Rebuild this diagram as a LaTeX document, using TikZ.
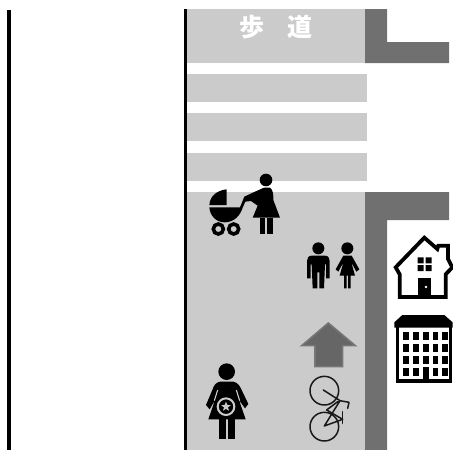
\documentclass[tikz,border=0pt]{standalone}
\usepackage{fontspec}
\newfontfamily\cjk{Noto Sans CJK JP}
\usetikzlibrary{shapes.geometric}
\definecolor{walk}{HTML}{CBCBCB}
\definecolor{wall}{HTML}{707070}
\definecolor{arrowfill}{HTML}{666666}
\definecolor{arrowedge}{HTML}{767676}
\tikzset{
  walkarea/.style={fill=walk,draw=none},
  wallarea/.style={fill=wall,draw=none},
  edgeline/.style={draw=black,line width=3.2pt},
  icon/.style={fill=black,draw=none},
  bikeline/.style={draw=black!90,line width=1.5pt,line cap=round,line join=round},
  zoomed/.style={shift={#1},scale=1/3}
}
\begin{document}
\begin{tikzpicture}[x=1pt,y=-1pt]
\useasboundingbox (0,0) rectangle (453,450);
\fill[white] (0,0) rectangle (453,450);
% walkway
\fill[walkarea] (187,9) rectangle (365,63);
\fill[walkarea] (187,74) rectangle (367,102);
\fill[walkarea] (187,113) rectangle (367,141);
\fill[walkarea] (187,153) rectangle (367,181);
\fill[walkarea] (187,192) rectangle (365,450);
% walls
\fill[wallarea] (365,9) -- (387,9) -- (387,42) -- (449,42) -- (449,63) -- (365,63) -- cycle;
\fill[wallarea] (365,192) -- (449,192) -- (449,220) -- (387,220) -- (387,450) -- (365,450) -- cycle;
% edge lines
\draw[edgeline] (9,10) -- (9,450);
\draw[edgeline] (185.5,9) -- (185.5,450);
% text
\node[text=white,font=\cjk\bfseries,inner sep=0pt] (ta) at (252,27) {\fontsize{25}{25}\selectfont 歩};
\node[text=white,font=\cjk\bfseries,inner sep=0pt] (tb) at (300,27) {\fontsize{25}{25}\selectfont 道};
% woman with pram
\begin{scope}[zoomed={(190,165)}]
\fill[icon] (228,45) circle (19);
\fill[icon] (222,68) -- (240,68) .. controls (250,75) and (250,90) .. (250,105) -- (270,158) -- (188,158) -- (203,122) -- (183,108)
  -- (166,110) -- (158,128) .. controls (152,148) and (135,172) .. (104,172) .. controls (78,172) and (60,152) .. (58,127) -- (150,127) -- (163,95) -- (195,80) -- cycle;
\fill[icon] (110,73) .. controls (82,76) and (60,92) .. (58,120) -- (110,120) -- cycle;
\fill[icon] (209,158) rectangle (225,207);
\fill[icon] (232,158) rectangle (248,207);
\draw[black,line width=3.6pt] (85,192) circle (15) (131,192) circle (15);
\end{scope}
% man and woman
\begin{scope}[zoomed={(295,225)}]
\fill[icon] (70,70) circle (18);
\fill[icon] (50,92) -- (90,92) .. controls (100,92) and (104,100) .. (104,108) -- (104,160) -- (93,160) -- (93,118) -- (90,118) -- (87,190) -- (73,190) -- (73,142) -- (67,142) -- (67,190) -- (53,190) -- (50,118) -- (47,118) -- (47,160) -- (36,160) -- (36,108) .. controls (36,100) and (40,92) .. (50,92) -- cycle;
\fill[icon] (157,70) circle (18);
\fill[icon] (145,92) -- (170,92) -- (193,133) -- (184,140) -- (169,112) -- (180,152) -- (167,152) -- (167,190) -- (159,190) -- (159,152) -- (155,152) -- (155,190) -- (147,190) -- (147,152) -- (134,152) -- (145,112) -- (130,140) -- (122,133) -- cycle;
% arrow
\filldraw[fill=arrowfill,draw=arrowedge,line width=1.6pt,line join=miter] (100,294) -- (181,362) -- (143,362) -- (143,425) -- (60,425) -- (60,362) -- (20,362) -- cycle;
% house
\draw[black,line width=3.8pt,line join=miter] (302,127) -- (388,38) -- (427,72) -- (430,62) -- (459,62) -- (459,102) -- (472,127) -- (452,148) -- (452,216) -- (314,216) -- (314,148) -- cycle;
\fill[icon] (368,97) rectangle (386,115) (392,97) rectangle (410,115) (368,120) rectangle (386,138) (392,120) rectangle (410,138);
\fill[icon] (368,158) rectangle (408,216);
\fill[white] (393,186) circle (4);
% building
\draw[black,line width=3.6pt] (308,300) rectangle (466,468);
\fill[icon] (298,308) -- (298,292) -- (322,270) -- (448,270) -- (473,292) -- (473,308) -- cycle;
\foreach \yy in {322,358,394,430}{
  \foreach \xx in {333,363,393,422,450}{
    \fill[icon] (\xx-8,\yy) rectangle (\xx+8,\yy+22);
  }
}
\fill[icon] (383,425) rectangle (403,468);
\end{scope}
% pregnant woman and bicycle
\begin{scope}[zoomed={(195,340)}]
\fill[icon] (95,95) circle (25);
\fill[icon] (75,125) -- (115,125) .. controls (130,128) and (135,140) .. (140,150) -- (160,192) -- (150,205) -- (132,180) -- (152,238) -- (40,238) -- (60,180) -- (44,208) -- (33,195) -- (52,150) .. controls (57,135) and (62,128) .. (75,125) -- cycle;
\fill[icon] (72,238) -- (92,238) -- (92,298) -- (72,298) -- cycle;
\fill[icon] (100,238) -- (120,238) -- (120,298) -- (100,298) -- cycle;
\draw[walk,line width=1.1pt] (68,150) -- (58,182) (124,150) -- (134,182);
\draw[walk,line width=2pt] (93,200) circle (25);
\node[star,star points=5,star point ratio=2.3,fill=walk,inner sep=0pt,minimum size=10pt] (preg) at (93,200) {};
% bicycle
\draw[bikeline] (388,152) circle (43) (388,260) circle (43);
\draw[bikeline] (385,150) -- (435,182) -- (462,187) -- (458,205);
\draw[bikeline] (435,182) -- (388,258) -- (443,238) -- (395,210) -- (428,185);
\draw[bikeline] (443,215) -- (443,250);
\end{scope}
\end{tikzpicture}
\end{document}
